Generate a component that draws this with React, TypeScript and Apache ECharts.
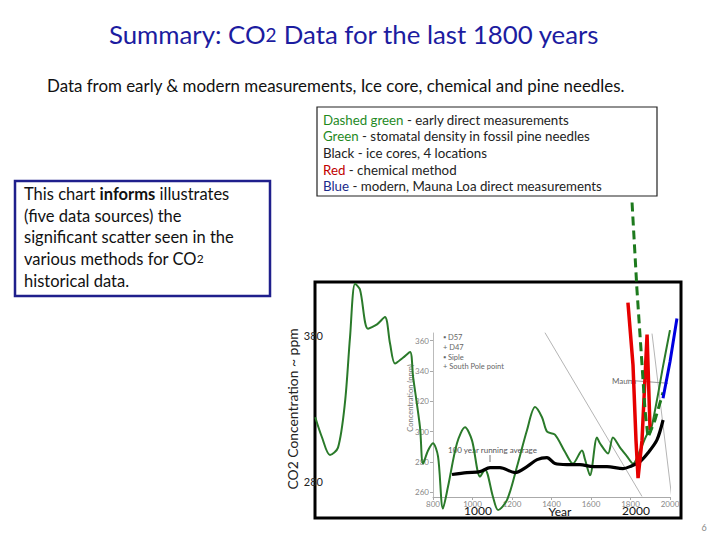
import React, { useEffect, useRef } from "react";
import * as echarts from "echarts";

// Green: stomatal density in fossil pine needles (outer axes)
const stomatalYears = [-30, 13, 63, 114, 158, 190, 222, 253, 304, 361, 411, 443, 475, 525, 570, 589, 633, 652, 684, 715, 747, 778, 810, 867, 918, 962, 1013, 1044, 1095, 1127, 1184, 1247, 1310, 1361, 1405, 1437, 1487, 1551, 1601, 1658, 1677, 1709, 1753, 1772, 1823, 1854, 1899, 1943, 1981, 2025, 2070, 2089, 2133, 2171, 2215];
const stomatalPpm = [324, 310, 298, 303, 334, 379, 416, 412, 385, 388, 393, 375, 361, 365, 369, 352, 317, 292, 301, 306, 297, 261, 276, 306, 317, 308, 283, 288, 269, 260, 267, 290, 315, 331, 324, 314, 312, 300, 292, 301, 295, 284, 310, 306, 299, 310, 303, 297, 292, 301, 312, 313, 336, 359, 384];

// Black: ice cores, 100 year running average (inner axes)
const iceYears = [896, 972, 1038, 1089, 1139, 1215, 1276, 1327, 1377, 1418, 1478, 1544, 1610, 1681, 1762, 1797, 1848, 1889, 1934, 1965];
const icePpm = [271.8, 273.1, 273.7, 276.3, 276.3, 273.1, 277, 281.6, 282.9, 279, 278.3, 278.3, 277, 277, 275.7, 277, 280.3, 286.1, 294.6, 307.7];

// Red: chemical method (outer axes)
const chemYears = [1949, 1981, 2000, 2013, 2038, 2070, 2089];
const chemPpm = [403, 360, 308, 282, 308, 381, 315];

// Dashed green: early direct measurements (outer axes)
const earlyYears = [1975, 2006, 2032, 2057, 2076, 2120, 2171];
const earlyPpm = [472, 412, 370, 329, 310, 322, 341];

// Blue: modern Mauna Loa (outer axes)
const maunaYears = [2171, 2215, 2259];
const maunaPpm = [337, 362, 392];

// Inner figure guide lines (inner axes)
const guideA = [[1367, 365.2], [1858, 257.4]];
const guideB = [[1909, 364.6], [2010, 255.4]];
const guideC = [[1782, 333.9], [1990, 331.9]];

const outerXLabels = [1000, 2000];
const outerYLabels = [280, 380];
const innerYLabels = [260, 280, 300, 320, 340, 360];

const zip = (xs: number[], ys: number[]) => xs.map((x, i) => [x, ys[i]]);
const plain = (v: number) => String(v);

const FONT = "Lato, 'Open Sans', sans-serif";

export default function App() {
  const ref = useRef<HTMLDivElement>(null);
  useEffect(() => {
    const chart = echarts.init(ref.current!, null, { renderer: "svg" });
    const option: any = {
      animation: false,
      backgroundColor: "#fff",
      textStyle: { fontFamily: FONT },
      grid: [
        { left: 315, top: 282, width: 366, height: 236, show: true, borderColor: "#000", borderWidth: 3, backgroundColor: "rgba(0,0,0,0)" },
        { left: 433, top: 333, width: 237, height: 164, show: false },
      ],
      xAxis: [
        {
          type: "value", gridIndex: 0, min: -31.6, max: 2284.8,
          axisLine: { show: false }, axisTick: { show: false }, splitLine: { show: false },
          axisLabel: { customValues: outerXLabels, formatter: plain, margin: -14, color: "#111", fontSize: 12, fontFamily: FONT },
        },
        {
          type: "value", gridIndex: 1, min: 800, max: 2000, interval: 200,
          axisLine: { show: true, lineStyle: { color: "#aaa", width: 1 } },
          axisTick: { show: true, length: 3, lineStyle: { color: "#aaa" } },
          splitLine: { show: false },
          axisLabel: { formatter: plain, color: "#888", fontSize: 8, margin: 3, fontFamily: FONT },
        },
      ],
      yAxis: [
        {
          type: "value", gridIndex: 0, min: 254.5, max: 417.2,
          axisLine: { show: false }, axisTick: { show: false }, splitLine: { show: false },
          axisLabel: { customValues: outerYLabels, formatter: plain, margin: -8, color: "#222", fontSize: 11, fontFamily: FONT },
        },
        {
          type: "value", gridIndex: 1, min: 257, max: 365,
          axisLine: { show: true, lineStyle: { color: "#bbb", width: 1 } },
          axisTick: { show: true, length: 3, customValues: innerYLabels, lineStyle: { color: "#aaa" } },
          splitLine: { show: false },
          axisLabel: { customValues: innerYLabels, formatter: plain, color: "#888", fontSize: 8, margin: 4, fontFamily: FONT },
        },
      ],
      series: [
        { type: "line", name: "guideA", xAxisIndex: 1, yAxisIndex: 1, data: guideA, symbol: "none", clip: false, silent: true, lineStyle: { color: "#b5b5b5", width: 1 } },
        { type: "line", name: "guideB", xAxisIndex: 1, yAxisIndex: 1, data: guideB, symbol: "none", clip: false, silent: true, lineStyle: { color: "#b5b5b5", width: 1 } },
        { type: "line", name: "guideC", xAxisIndex: 1, yAxisIndex: 1, data: guideC, symbol: "none", clip: false, silent: true, lineStyle: { color: "#999", width: 1 } },
        { type: "line", name: "Green", xAxisIndex: 0, yAxisIndex: 0, data: zip(stomatalYears, stomatalPpm), symbol: "none", smooth: 0.3, lineStyle: { color: "#2a7a2a", width: 2 } },
        { type: "line", name: "Black", xAxisIndex: 1, yAxisIndex: 1, data: zip(iceYears, icePpm), symbol: "none", smooth: 0.3, lineStyle: { color: "#000", width: 3.2 } },
        { type: "line", name: "Red", xAxisIndex: 0, yAxisIndex: 0, data: zip(chemYears, chemPpm), symbol: "none", clip: false, lineStyle: { color: "#e60000", width: 3.5 } },
        { type: "line", name: "Dashed green", xAxisIndex: 0, yAxisIndex: 0, data: zip(earlyYears, earlyPpm), symbol: "none", clip: false, lineStyle: { color: "#1d7a1d", width: 3, type: [9, 5] } },
        { type: "line", name: "Blue", xAxisIndex: 0, yAxisIndex: 0, data: zip(maunaYears, maunaPpm), symbol: "none", clip: false, lineStyle: { color: "#0000e0", width: 3 } },
      ],
      graphic: [
        {
          type: "text", x: 354, y: 34,
          style: {
            text: "{t|Summary: CO}{s|2}{t| Data for the last 1800 years}",
            textAlign: "center", textVerticalAlign: "middle",
            rich: {
              t: { fontSize: 25.8, fontFamily: FONT, fill: "#1c1ca0", color: "#1c1ca0", lineHeight: 32 },
              s: { fontSize: 19, fontFamily: FONT, fill: "#1c1ca0", color: "#1c1ca0", lineHeight: 32 },
            },
          },
        },
        {
          type: "text", x: 47, y: 85,
          style: { text: "Data from early & modern measurements, Ice core, chemical and pine needles.", fontSize: 16.9, fontFamily: FONT, fill: "#111", textVerticalAlign: "middle" },
        },
        { type: "rect", shape: { x: 317, y: 107, width: 340, height: 89 }, style: { fill: "#fff", stroke: "#222", lineWidth: 1.2 } },
        {
          type: "text", x: 323, y: 111.5,
          style: {
            text: [
              "{g|Dashed green}{k| - early direct measurements}",
              "{g|Green}{k| - stomatal density in fossil pine needles}",
              "{k|Black - ice cores, 4 locations}",
              "{r|Red}{k| - chemical method}",
              "{b|Blue}{k| - modern, Mauna Loa direct measurements}",
            ].join("\n"),
            textVerticalAlign: "top",
            rich: {
              k: { fontSize: 13.3, fontFamily: FONT, fill: "#222", color: "#222", lineHeight: 16.6 },
              g: { fontSize: 13.3, fontFamily: FONT, fill: "#1f8a1f", color: "#1f8a1f", lineHeight: 16.6 },
              r: { fontSize: 13.3, fontFamily: FONT, fill: "#c00000", color: "#c00000", lineHeight: 16.6 },
              b: { fontSize: 13.3, fontFamily: FONT, fill: "#1a2a8a", color: "#1a2a8a", lineHeight: 16.6 },
            },
          },
        },
        { type: "rect", shape: { x: 15, y: 181, width: 255, height: 115 }, style: { fill: "#fff", stroke: "#1f1f8c", lineWidth: 2.5 } },
        {
          type: "text", x: 24, y: 183,
          style: {
            text: [
              "{n|This chart }{bb|informs}{n| illustrates}",
              "{n|(five data sources) the}",
              "{n|significant scatter seen in the}",
              "{n|various methods for CO}{s|2}",
              "{n|historical data.}",
            ].join("\n"),
            textVerticalAlign: "top",
            rich: {
              n: { fontSize: 16.5, fontFamily: FONT, fill: "#111", color: "#111", lineHeight: 21.7 },
              bb: { fontSize: 16.5, fontFamily: FONT, fontWeight: "bold", fill: "#111", color: "#111", lineHeight: 21.7 },
              s: { fontSize: 12, fontFamily: FONT, fill: "#111", color: "#111", lineHeight: 21.7 },
            },
          },
        },
        {
          type: "text", x: 292, y: 409, rotation: Math.PI / 2,
          style: { text: "CO2 Concentration ~ ppm", fontSize: 13.9, fontFamily: FONT, fill: "#222", textAlign: "center", textVerticalAlign: "middle" },
        },
        {
          type: "text", x: 560, y: 511,
          style: { text: "Year", fontSize: 12, fontFamily: FONT, fill: "#111", textAlign: "center", textVerticalAlign: "middle" },
        },
        {
          type: "text", x: 410, y: 398, rotation: Math.PI / 2,
          style: { text: "Concentration (ppm)", fontSize: 7.5, fontFamily: FONT, fill: "#777", textAlign: "center", textVerticalAlign: "middle" },
        },
        {
          type: "text", x: 443, y: 333,
          style: {
            text: "▪ D57\n+ D47\n▪ Siple\n+ South Pole point",
            fontSize: 7.5, fontFamily: FONT, fill: "#666", lineHeight: 9.6, textVerticalAlign: "top",
          },
        },
        {
          type: "text", x: 448, y: 450,
          style: { text: "100 year running average", fontSize: 8, fontFamily: FONT, fill: "#555", textVerticalAlign: "middle" },
        },
        { type: "line", shape: { x1: 490, y1: 455, x2: 490, y2: 462 }, style: { stroke: "#777", lineWidth: 1 } },
        {
          type: "text", x: 612, y: 381,
          style: { text: "Mauna", fontSize: 8, fontFamily: FONT, fill: "#666", textVerticalAlign: "middle" },
        },
        {
          type: "text", x: 704, y: 527,
          style: { text: "6", fontSize: 9, fontFamily: FONT, fill: "#888", textAlign: "center", textVerticalAlign: "middle" },
        },
      ],
    };
    chart.setOption(option);
    return () => chart.dispose();
  }, []);
  return (
    <div
      ref={ref}
      style={{ position: "fixed", left: 0, top: 0, width: 720, height: 540, background: "#fff" }}
    />
  );
}
